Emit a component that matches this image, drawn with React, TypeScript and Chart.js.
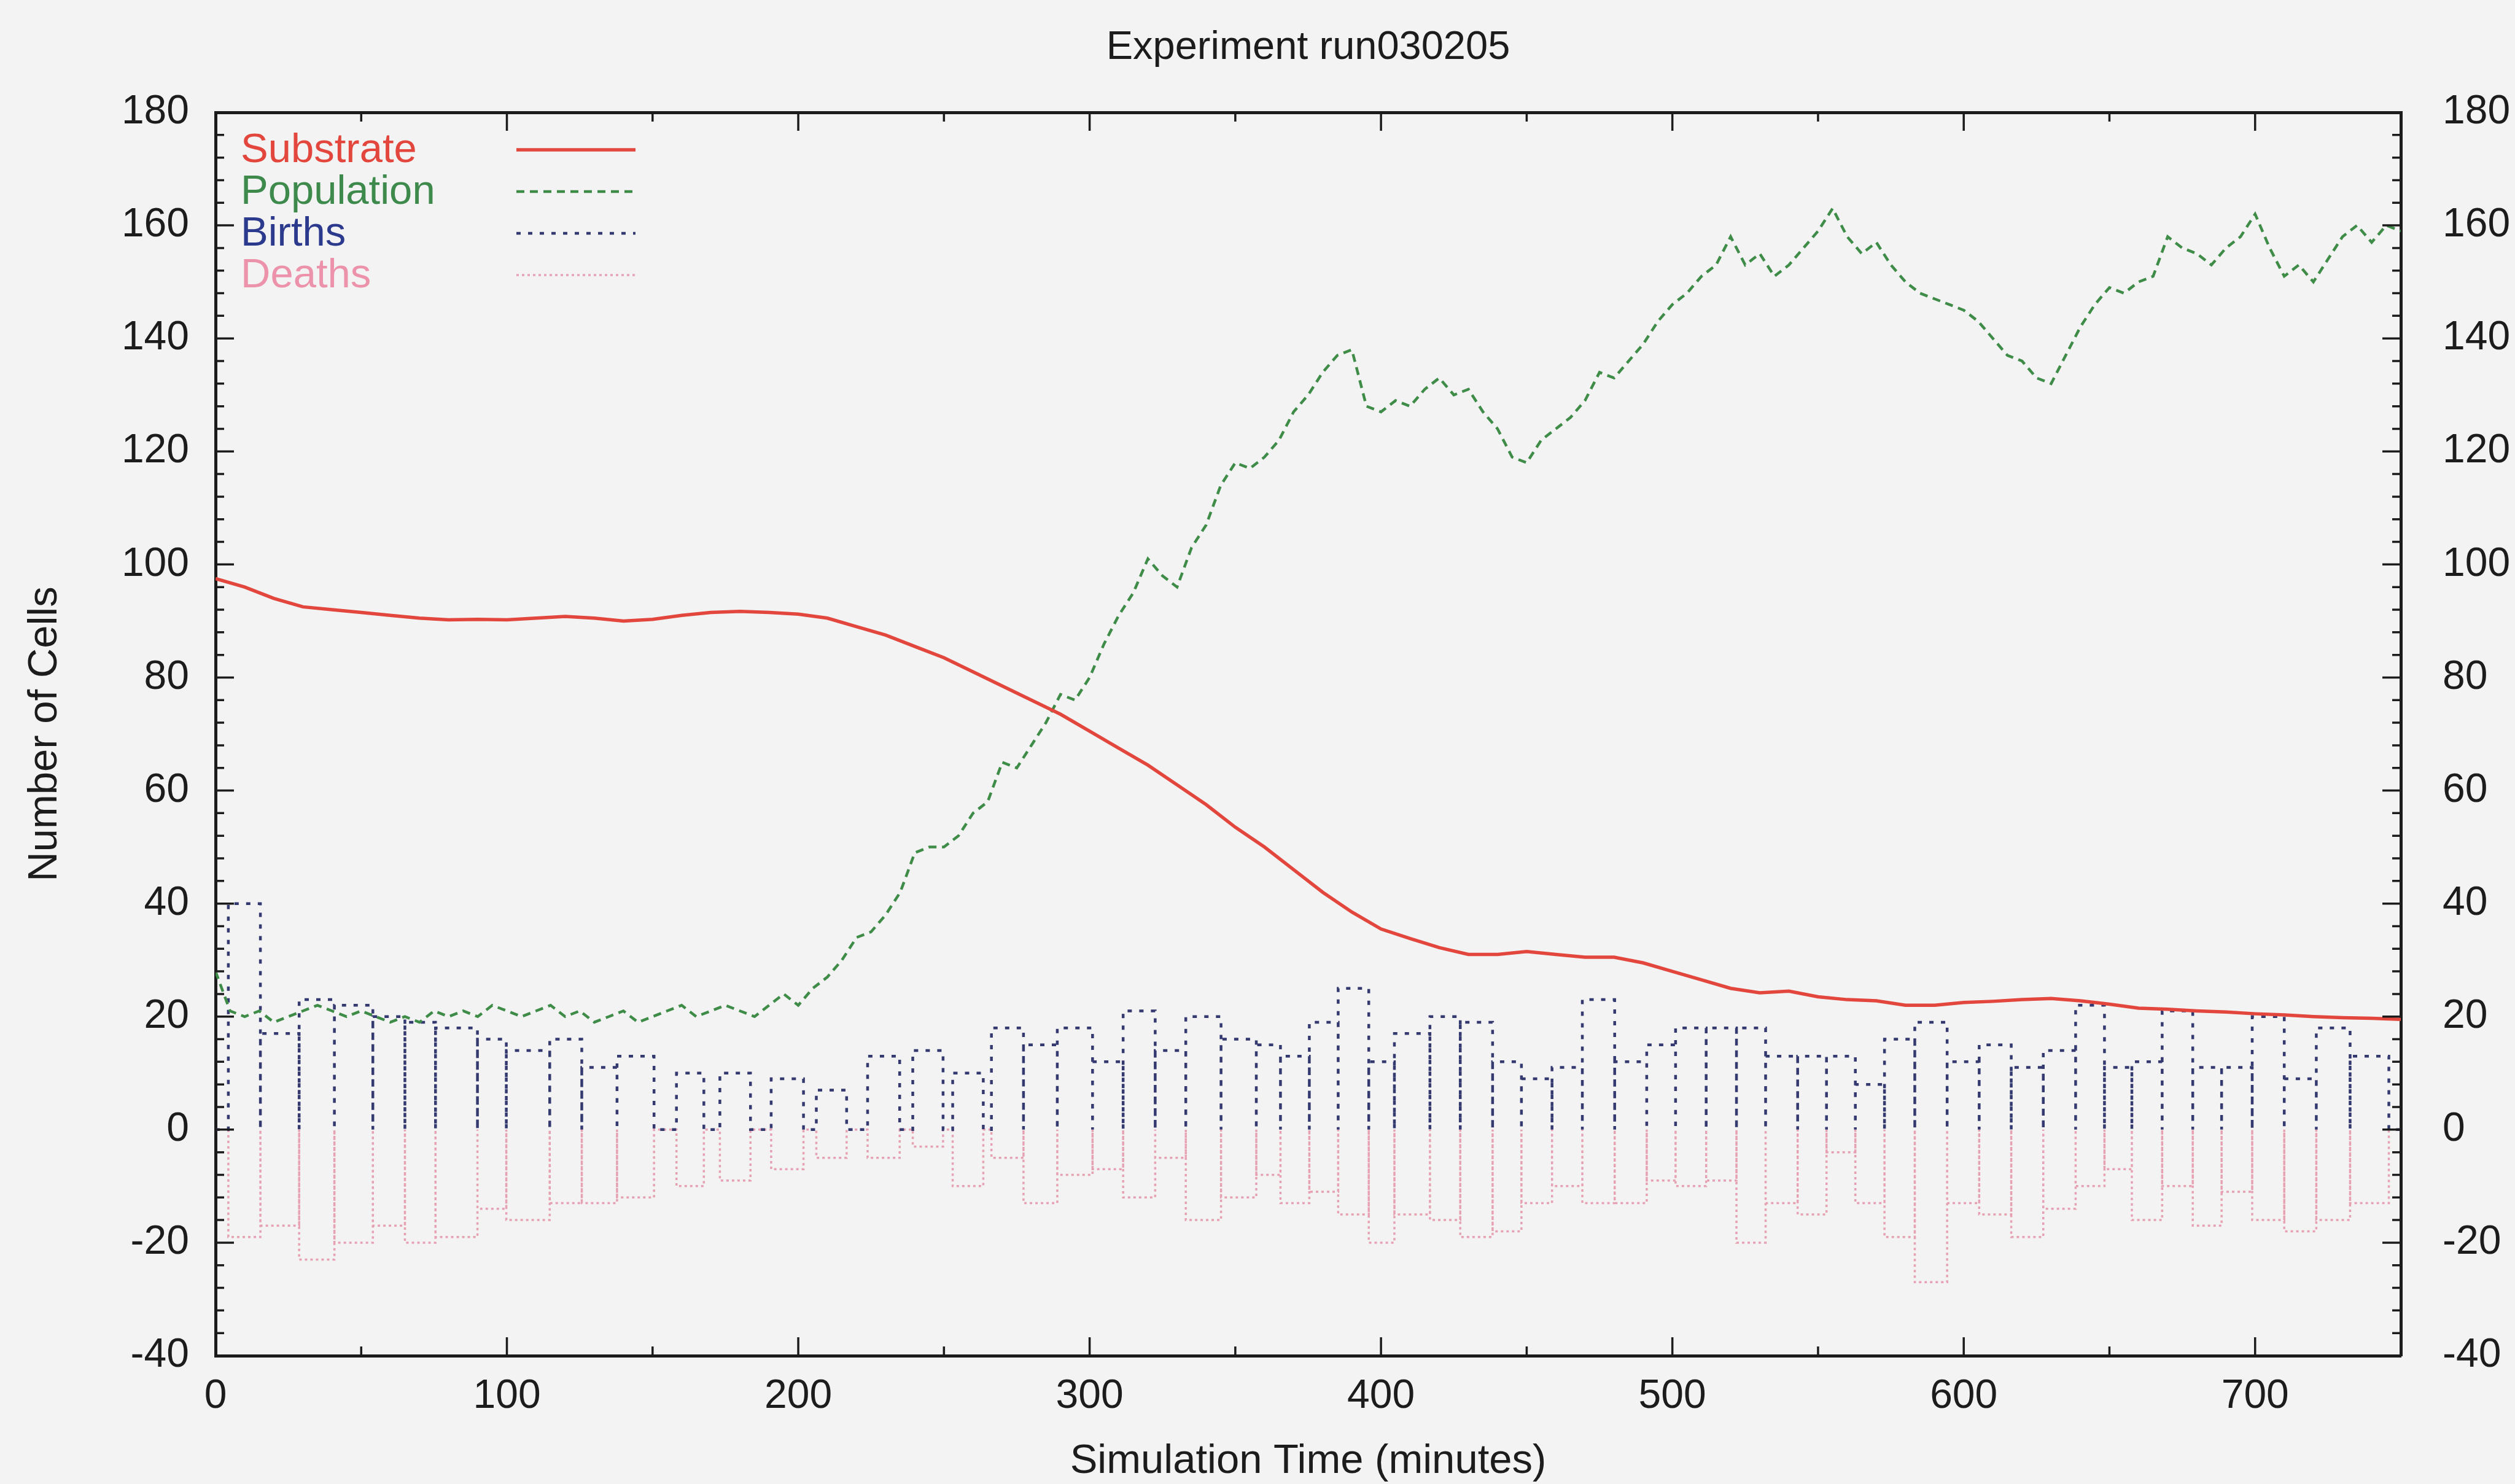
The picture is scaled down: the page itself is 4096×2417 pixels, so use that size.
import React, { useEffect, useRef } from "react";
import { Chart, registerables } from "chart.js";

Chart.register(...registerables);

// ---------- text ----------
const TITLE = "Experiment run030205";
const X_TITLE = "Simulation Time (minutes)";
const Y_TITLE = "Number of Cells";
const SERIES_NAMES = ["Substrate", "Population", "Births", "Deaths"];

// ---------- axes ----------
const X_MIN = 0;
const X_MAX = 750;
const X_TICKS = [0, 100, 200, 300, 400, 500, 600, 700];
const X_MINOR_STEP = 50;
const Y_MIN = -40;
const Y_MAX = 180;
const Y_TICKS = [-40, -20, 0, 20, 40, 60, 80, 100, 120, 140, 160, 180];
const Y_MINOR_STEP = 4;

// ---------- data ----------
// Substrate, sampled every 10 minutes from t = 0
const SUBSTRATE_STEP = 10;
const SUBSTRATE = [
  97.5, 96, 94, 92.5, 92, 91.5, 91, 90.5, 90.2, 90.3,
  90.2, 90.5, 90.8, 90.5, 90, 90.3, 91, 91.5, 91.7, 91.5,
  91.2, 90.5, 89, 87.5, 85.5, 83.5, 81, 78.5, 76, 73.5,
  70.5, 67.5, 64.5, 61, 57.5, 53.5, 50, 46, 42, 38.5,
  35.5, 33.8, 32.2, 31, 31, 31.5, 31, 30.5, 30.5, 29.5,
  28, 26.5, 25, 24.2, 24.5, 23.5, 23, 22.8, 22, 22,
  22.5, 22.7, 23, 23.2, 22.8, 22.2, 21.5, 21.3, 21, 20.8,
  20.5, 20.3, 20, 19.8, 19.7, 19.5,
];

// Population, sampled every 5 minutes from t = 0
const POP_STEP = 5;
const POPULATION = [
  28, 21, 20, 21, 19, 20, 21, 22, 21, 20,
  21, 20, 19, 20, 19, 21, 20, 21, 20, 22,
  21, 20, 21, 22, 20, 21, 19, 20, 21, 19,
  20, 21, 22, 20, 21, 22, 21, 20, 22, 24,
  22, 25, 27, 30, 34, 35, 38, 42, 49, 50,
  50, 52, 56, 58, 65, 64, 68, 72, 77, 76,
  80, 86, 91, 95, 101, 98, 96, 103, 107, 114,
  118, 117, 119, 122, 127, 130, 134, 137, 138, 128,
  127, 129, 128, 131, 133, 130, 131, 127, 124, 119,
  118, 122, 124, 126, 129, 134, 133, 136, 139, 143,
  146, 148, 151, 153, 158, 153, 155, 151, 153, 156,
  159, 163, 158, 155, 157, 153, 150, 148, 147, 146,
  145, 143, 140, 137, 136, 133, 132, 137, 142, 146,
  149, 148, 150, 151, 158, 156, 155, 153, 156, 158,
  162, 156, 151, 153, 150, 154, 158, 160, 157, 160,
  159,
];

// Births / deaths histogram: bin edges (minutes) and counts per bin
const BIN_EDGES = [
  4.4, 15.4, 28.7, 40.8, 54.0, 65.0, 75.5, 89.9, 99.8, 114.7,
  125.7, 137.8, 150.5, 158.2, 167.6, 173.1, 183.6, 190.7, 201.8, 206.2,
  216.6, 223.8, 234.8, 239.3, 249.7, 253.0, 263.5, 266.3, 277.3, 288.9,
  301.0, 311.5, 322.5, 333.0, 345.1, 357.2, 365.5, 375.4, 385.3, 395.8,
  404.6, 416.8, 427.2, 438.3, 448.2, 458.7, 469.1, 480.2, 491.2, 501.1,
  511.6, 522.0, 532.0, 543.0, 552.9, 562.8, 572.8, 583.2, 594.3, 605.3,
  616.3, 627.3, 638.4, 648.3, 657.7, 668.1, 678.6, 688.5, 699.0, 710.0,
  721.0, 732.6, 745.9,
];
const BIRTHS = [
  40, 17, 23, 22, 20, 19, 18, 16, 14, 16,
  11, 13, 0, 10, 0, 10, 0, 9, 0, 7,
  0, 13, 0, 14, 0, 10, 0, 18, 15, 18,
  12, 21, 14, 20, 16, 15, 13, 19, 25, 12,
  17, 20, 19, 12, 9, 11, 23, 12, 15, 18,
  18, 18, 13, 13, 13, 8, 16, 19, 12, 15,
  11, 14, 22, 11, 12, 21, 11, 11, 20, 9,
  18, 13,
];
const DEATHS = [
  -19, -17, -23, -20, -17, -20, -19, -14, -16, -13,
  -13, -12, 0, -10, 0, -9, 0, -7, 0, -5,
  0, -5, 0, -3, 0, -10, 0, -5, -13, -8,
  -7, -12, -5, -16, -12, -8, -13, -11, -15, -20,
  -15, -16, -19, -18, -13, -10, -13, -13, -9, -10,
  -9, -20, -13, -15, -4, -13, -19, -27, -13, -15,
  -19, -14, -10, -7, -16, -10, -17, -11, -16, -18,
  -16, -13,
];

// ---------- styles ----------
const FONT = "'Liberation Sans', Arial, Helvetica, sans-serif";
const INK = "#1c1c1c";
const BG = "#f3f3f3";
const COLORS = ["#e2463c", "#3f8c48", "#343a70", "#e6a2b3"];
const TEXT_COLORS = ["#e2463c", "#3d8a4c", "#2c3a8e", "#ec93ab"];
const WIDTHS = [5.5, 4.5, 4.5, 3.5];
const DASHES: number[][] = [[], [13, 9], [7, 12], [4, 5]];

const W = 4096;
const H = 2417;

function boxOutline(edges: number[], values: number[], from: number, to: number) {
  const pts: { x: number; y: number }[] = [{ x: from, y: 0 }];
  values.forEach((v, i) => {
    pts.push({ x: edges[i], y: 0 });
    pts.push({ x: edges[i], y: v });
    pts.push({ x: edges[i + 1], y: v });
    pts.push({ x: edges[i + 1], y: 0 });
  });
  pts.push({ x: to, y: 0 });
  return pts;
}

const innerTicks = {
  id: "innerTicks",
  afterDraw(chart: any) {
    const { ctx, chartArea } = chart;
    const { left, right, top, bottom } = chartArea;
    const xs = chart.scales.x;
    const ys = chart.scales.y;
    ctx.save();
    ctx.strokeStyle = INK;
    ctx.lineWidth = 3.5;
    ctx.beginPath();
    for (let v = X_MIN + X_MINOR_STEP; v < X_MAX; v += X_MINOR_STEP) {
      const px = xs.getPixelForValue(v);
      const len = X_TICKS.includes(v) ? 30 : 15;
      ctx.moveTo(px, bottom);
      ctx.lineTo(px, bottom - len);
      ctx.moveTo(px, top);
      ctx.lineTo(px, top + len);
    }
    for (let v = Y_MIN + Y_MINOR_STEP; v < Y_MAX; v += Y_MINOR_STEP) {
      const py = ys.getPixelForValue(v);
      const len = Y_TICKS.includes(v) ? 30 : 14;
      ctx.moveTo(left, py);
      ctx.lineTo(left + len, py);
      ctx.moveTo(right, py);
      ctx.lineTo(right - len, py);
    }
    ctx.stroke();
    ctx.restore();
  },
};

const keyPlugin = {
  id: "keyPlugin",
  afterDraw(chart: any) {
    const { ctx, chartArea } = chart;
    const textX = chartArea.left + 41;
    const lineX0 = chartArea.left + 490;
    const lineX1 = chartArea.left + 684;
    const y0 = chartArea.top + 61;
    const rowH = 68;
    ctx.save();
    ctx.font = `67px ${FONT}`;
    ctx.textAlign = "left";
    ctx.textBaseline = "middle";
    chart.data.datasets.forEach((ds: any, i: number) => {
      const y = y0 + i * rowH;
      ctx.fillStyle = TEXT_COLORS[i];
      ctx.fillText(ds.label, textX, y + 2);
      ctx.strokeStyle = ds.borderColor;
      ctx.lineWidth = ds.borderWidth;
      ctx.setLineDash(ds.borderDash || []);
      ctx.beginPath();
      ctx.moveTo(lineX0, y);
      ctx.lineTo(lineX1, y);
      ctx.stroke();
    });
    ctx.restore();
  },
};

export default function App() {
  const ref = useRef<HTMLCanvasElement | null>(null);

  useEffect(() => {
    const canvas = ref.current;
    if (!canvas) return;

    const substrateData = SUBSTRATE.map((v, i) => ({ x: i * SUBSTRATE_STEP, y: v }));
    const populationData = POPULATION.map((v, i) => ({ x: i * POP_STEP, y: v }));
    const birthsData = boxOutline(BIN_EDGES, BIRTHS, X_MIN, X_MAX);
    const deathsData = boxOutline(BIN_EDGES, DEATHS, BIN_EDGES[0], BIN_EDGES[BIN_EDGES.length - 1]);
    const allData = [substrateData, populationData, birthsData, deathsData];

    const tickFont = { family: FONT, size: 66, lineHeight: 1 };
    const titleFont = { family: FONT, size: 67, lineHeight: 1 };
    const border = { display: true, width: 5, color: INK };

    const chart = new Chart(canvas, {
      type: "line",
      data: {
        datasets: SERIES_NAMES.map((name, i) => ({
          label: name,
          data: allData[i],
          borderColor: COLORS[i],
          backgroundColor: COLORS[i],
          borderWidth: WIDTHS[i],
          borderDash: DASHES[i],
          pointRadius: 0,
          tension: 0,
          fill: false,
          order: i,
        })),
      },
      options: {
        responsive: false,
        animation: false,
        devicePixelRatio: 1,
        layout: { padding: 0 },
        plugins: {
          legend: { display: false },
          tooltip: { enabled: false },
          title: { display: false },
        },
        scales: {
          x: {
            type: "linear",
            position: "bottom",
            min: X_MIN,
            max: X_MAX,
            afterBuildTicks: (s: any) => {
              s.ticks = X_TICKS.map((v) => ({ value: v }));
            },
            ticks: { font: tickFont, color: INK, padding: 34, maxRotation: 0, autoSkip: false },
            grid: { display: false, drawTicks: false },
            border,
            title: {
              display: true,
              text: X_TITLE,
              font: titleFont,
              color: INK,
              padding: { top: 0, bottom: 3 },
            },
            afterFit: (s: any) => {
              s.height = 209;
            },
          },
          x2: {
            type: "linear",
            position: "top",
            min: X_MIN,
            max: X_MAX,
            ticks: { display: false },
            grid: { display: false, drawTicks: false },
            border,
            title: {
              display: true,
              text: TITLE,
              font: { family: FONT, size: 65, lineHeight: 1 },
              color: INK,
              padding: { top: 46, bottom: 0 },
            },
            afterFit: (s: any) => {
              s.height = 183;
            },
          },
          y: {
            type: "linear",
            position: "left",
            min: Y_MIN,
            max: Y_MAX,
            afterBuildTicks: (s: any) => {
              s.ticks = Y_TICKS.map((v) => ({ value: v }));
            },
            ticks: { font: tickFont, color: INK, padding: 43 },
            grid: { display: false, drawTicks: false },
            border,
            title: {
              display: true,
              text: Y_TITLE,
              font: titleFont,
              color: INK,
              padding: { top: 40, bottom: 0 },
            },
            afterFit: (s: any) => {
              s.width = 351;
            },
          },
          y2: {
            type: "linear",
            position: "right",
            min: Y_MIN,
            max: Y_MAX,
            afterBuildTicks: (s: any) => {
              s.ticks = Y_TICKS.map((v) => ({ value: v }));
            },
            ticks: { font: tickFont, color: INK, padding: 68 },
            grid: { display: false, drawTicks: false },
            border,
            afterFit: (s: any) => {
              s.width = 186;
            },
          },
        },
      },
      plugins: [innerTicks, keyPlugin],
    } as any);

    return () => chart.destroy();
  }, []);

  return (
    <div
      style={{
        position: "fixed",
        left: 0,
        top: 0,
        width: W,
        height: H,
        background: BG,
        overflow: "hidden",
      }}
    >
      <canvas ref={ref} width={W} height={H} style={{ display: "block", width: W, height: H }} />
    </div>
  );
}
